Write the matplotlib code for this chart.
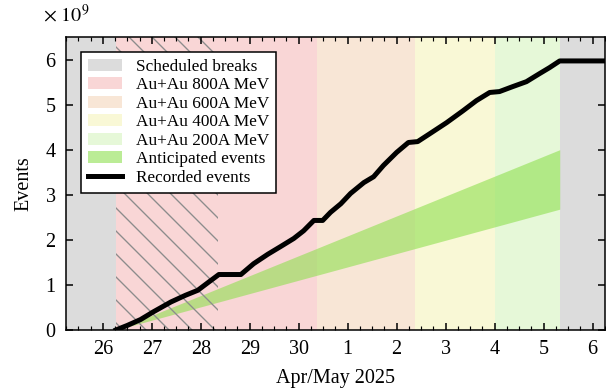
import matplotlib
matplotlib.use("Agg")
import matplotlib.pyplot as plt
import matplotlib.dates as mdates
import matplotlib.ticker as mticker
import pandas as pd

plt.rcParams['font.family'] = ['Liberation Serif', 'DejaVu Serif']
plt.rcParams['mathtext.fontset'] = 'stix'
plt.rcParams['hatch.linewidth'] = 0.7

base = pd.Timestamp("2025-04-26")

# recorded events: time in days after Apr 26 00:00, events in units of 1e9
rec_t = [0.27, 0.50, 0.77, 1.03, 1.39, 1.69, 1.94, 2.16, 2.37, 2.82,
         3.08, 3.37, 3.63, 3.90, 4.10, 4.31, 4.49, 4.65, 4.86, 5.06,
         5.33, 5.53, 5.73, 6.00, 6.24, 6.43, 6.67, 7.02, 7.35, 7.63,
         7.90, 8.10, 8.37, 8.65, 8.92, 9.12, 9.33, 10.25]
rec_n = [0.00, 0.10, 0.23, 0.40, 0.62, 0.77, 0.88, 1.06, 1.23, 1.23,
         1.47, 1.68, 1.85, 2.03, 2.20, 2.43, 2.43, 2.61, 2.80, 3.03,
         3.27, 3.40, 3.65, 3.94, 4.16, 4.18, 4.35, 4.60, 4.86, 5.09,
         5.27, 5.29, 5.40, 5.51, 5.69, 5.82, 5.97, 5.97]

# anticipated band (start/end of beam time)
ant_t = [0.27, 9.33]
ant_low = [0.0, 2.68]
ant_high = [0.0, 4.00]

# periods (start, end) in days after Apr 26
periods = [
    ("Scheduled breaks", -0.75, 0.27, "#dcdcdc"),
    ("Au+Au 800A MeV", 0.27, 4.37, "#f9d6d6"),
    ("Au+Au 600A MeV", 4.37, 6.37, "#f8e6d6"),
    ("Au+Au 400A MeV", 6.37, 8.00, "#f9f8d6"),
    ("Au+Au 200A MeV", 8.00, 9.33, "#e6f8d8"),
    (None, 9.33, 10.25, "#dcdcdc"),
]
hatch_span = (0.27, 2.35)


def to_date(days):
    return [base + pd.Timedelta(days=d) for d in days]


fig = plt.figure(figsize=(606 / 138, 390 / 138), dpi=138)
ax = fig.add_axes([0.109, 0.154, 0.889, 0.751])

for label, t0, t1, col in periods:
    d0, d1 = to_date([t0, t1])
    ax.axvspan(d0, d1, color=col, lw=0, zorder=0, label=label)

h0, h1 = to_date(hatch_span)
ax.axvspan(h0, h1, facecolor='none', edgecolor='#8c8c8c', hatch='\\\\',
           lw=0, zorder=1.5)

ax.fill_between(to_date(ant_t), [v * 1e9 for v in ant_low],
                [v * 1e9 for v in ant_high], color='#8fe050', alpha=0.6,
                lw=0, zorder=1, label='Anticipated events')
ax.plot(to_date(rec_t), [v * 1e9 for v in rec_n], color='black', lw=2.6,
        zorder=3, label='Recorded events')

ax.set_xlim(base + pd.Timedelta(days=-0.75), base + pd.Timedelta(days=10.25))
ax.set_ylim(0, 6.5e9)

ax.xaxis.set_major_locator(mdates.DayLocator())
ax.xaxis.set_minor_locator(mdates.HourLocator(byhour=[0, 6, 12, 18]))
ax.xaxis.set_major_formatter(
    mticker.FuncFormatter(lambda x, p: str(mdates.num2date(x).day)))
ax.yaxis.set_major_locator(mticker.MultipleLocator(1e9))
ax.yaxis.set_major_formatter(mticker.FuncFormatter(lambda y, p: '%g' % (y / 1e9)))
ax.tick_params(which='both', direction='in', top=True, right=True,
               labelsize=10.5)
ax.tick_params(which='major', pad=5.5)
ax.text(0, 1.035, r'$\times\ 10^{9}$', transform=ax.transAxes, ha='center',
        va='bottom', fontsize=10.5)

ax.set_xlabel('Apr/May 2025', fontsize=10.5, labelpad=5)
ax.set_ylabel('Events', fontsize=10.5, labelpad=6)

leg = ax.legend(loc='upper left', bbox_to_anchor=(0.0275, 0.95),
                fontsize=9.0, fancybox=False, framealpha=1,
                edgecolor='black', labelspacing=0.14, borderaxespad=0)
leg.get_frame().set_linewidth(0.8)
leg.set_zorder(5)

fig.savefig('out.png', dpi=138)
